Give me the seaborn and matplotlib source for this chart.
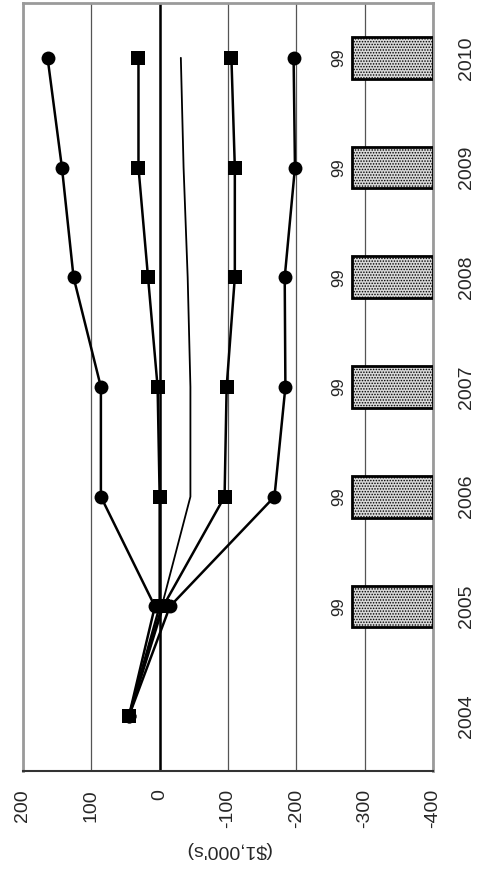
import matplotlib
matplotlib.use("Agg")
import matplotlib.pyplot as plt
import seaborn as sns

years = ["2004", "2005", "2006", "2007", "2008", "2009", "2010"]
bar_years = ["2005", "2006", "2007", "2008", "2009", "2010"]
bar_vals = [99, 99, 99, 99, 99, 99]

circle_hi = [45, 7, 86, 86, 126, 143, 164]
square_hi = [45, 0, 0, 3, 17, 31, 31]
plain_mid = [45, -3, -45, -45, -41, -35, -31]
square_lo = [45, -5, -95, -98, -110, -110, -105]
circle_lo = [45, -15, -168, -184, -183, -198, -196]

value_ticks = [200, 100, 0, -100, -200, -300, -400]

sns.set_style("white")
plt.rcParams["font.family"] = ["Liberation Sans", "DejaVu Sans"]
plt.rcParams["hatch.linewidth"] = 0.7

fig = plt.figure(figsize=(4.88, 8.76), dpi=100)
ax = fig.add_axes([0.0471, 0.1199, 0.8402, 0.8767])
ax2 = ax.twiny()

pos = list(range(len(years)))
bar_pos = [years.index(y) for y in bar_years]

# bars sit on a hidden secondary value axis (0 at the plot edge)
sns.barplot(x=bar_vals, y=bar_pos, orient="h", native_scale=True, width=0.38,
            color="#d8d8d8", saturation=1, edgecolor="black", linewidth=2,
            hatch="......", errorbar=None, ax=ax2)
ax2.set_xlim(500, 0)
ax2.bar_label(ax2.containers[0], labels=[str(v) for v in bar_vals],
              rotation=90, padding=4, fontsize=12)
ax2.set_xticks([])
ax2.set_xlabel("")
ax2.set_ylabel("")
for sp in ax2.spines.values():
    sp.set_visible(False)

# lines, drawn squares last so the 2004 square sits on top
series = [
    (circle_hi, "o", 1.8),
    (circle_lo, "o", 1.8),
    (plain_mid, None, 1.3),
    (square_hi, "s", 1.8),
    (square_lo, "s", 1.8),
]
for vals, mk, lw in series:
    sns.lineplot(x=vals, y=pos, orient="y", sort=False, color="black",
                 linewidth=lw, marker=mk, markersize=10, markeredgewidth=0,
                 ax=ax, zorder=4)

ax.set_xlim(200, -400)
ax.set_ylim(-0.5, 6.5)
ax.set_xticks(value_ticks)
ax.set_xticklabels([str(v) for v in value_ticks], rotation=90, fontsize=14)
ax.tick_params(axis="x", length=0, pad=13)
ax.yaxis.tick_right()
ax.set_yticks(pos)
ax.set_yticklabels(years, rotation=90, va="center", fontsize=14)
ax.tick_params(axis="y", length=0, pad=18)
ax.set_xlabel("($1,000's)", rotation=180, fontsize=14, labelpad=9)
ax.set_ylabel("")

ax.grid(axis="x", color="#555555", linewidth=0.9)
ax.grid(axis="y", visible=False)
ax.axvline(0, color="black", linewidth=1.8, zorder=2)

for side in ["left", "top", "right"]:
    ax.spines[side].set_color("#9a9a9a")
    ax.spines[side].set_linewidth(2)
ax.spines["bottom"].set_color("#333333")
ax.spines["bottom"].set_linewidth(1.5)

fig.savefig("out.png", dpi=100)
